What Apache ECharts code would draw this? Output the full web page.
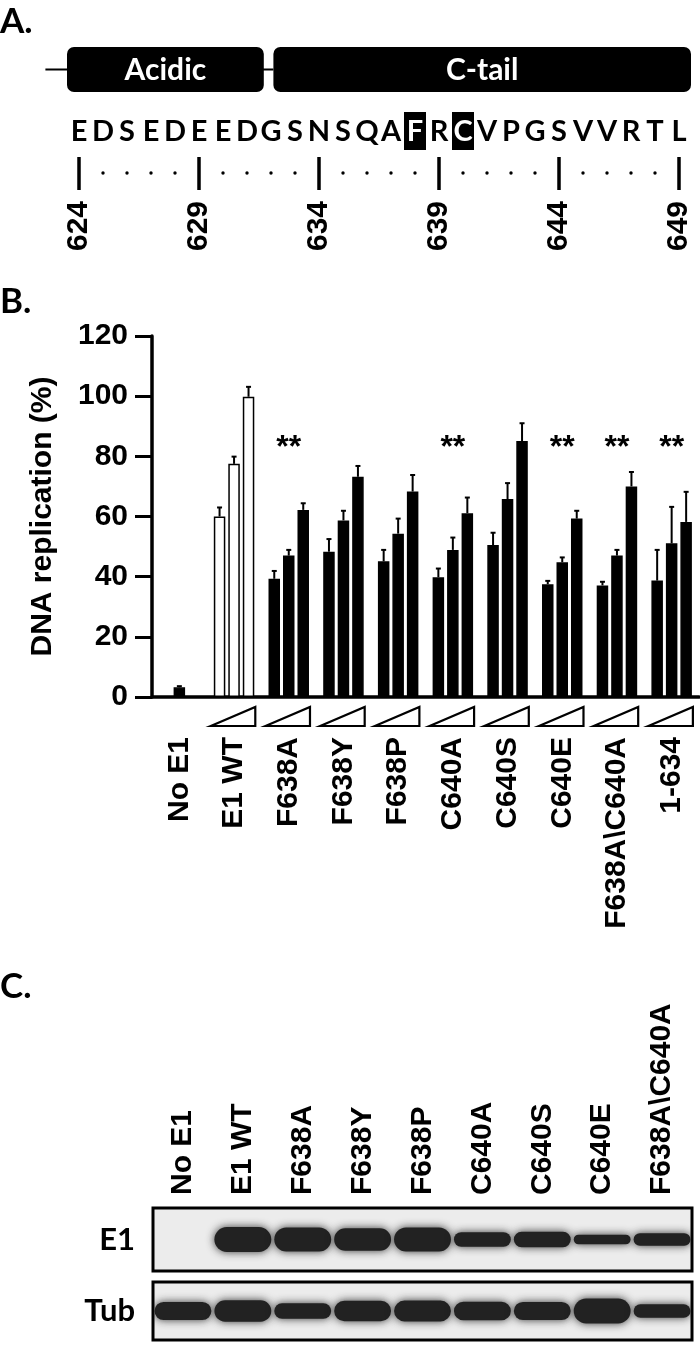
<!DOCTYPE html>
<html><head><meta charset="utf-8">
<script src="https://cdn.jsdelivr.net/npm/echarts@6/dist/echarts.min.js"></script>
<style>html,body{margin:0;padding:0;background:#fff}#c{width:700px;height:1346px}</style>
</head><body><div id="c"></div>
<script>
// ---------------- Data ----------------
// Panel A: sequence map
const residueStart = 624;
const sequence = ['E','D','S','E','D','E','E','D','G','S','N','S','Q','A','F','R','C','V','P','G','S','V','V','R','T','L'];
const highlighted = [638, 640];
const rulerLabels = [624, 629, 634, 639, 644, 649];
const domainNames = ['Acidic', 'C-tail'];
const domainStart = [623.5, 632.1];
const domainEnd = [631.7, 649.5];
const backboneStart = 622.6;

// Panel B: DNA replication (%)
const categories = ['No E1','E1 WT','F638A','F638Y','F638P','C640A','C640S','C640E','F638A\\C640A','1-634'];
const lowDose  = [null, 60.0, 39.3, 48.3, 45.1, 39.8, 50.5, 37.5, 37.1, 38.7];
const midDose  = [3.2,  77.5, 47.0, 58.7, 54.3, 48.9, 65.8, 44.8, 47.0, 51.1];
const highDose = [null, 99.8, 62.2, 73.2, 68.3, 61.1, 85.1, 59.3, 70.0, 58.2];
const lowErr   = [null, 3.0, 2.6, 4.2, 3.8, 2.9, 4.1, 1.1, 1.2, 10.2];
const midErr   = [0.4,  2.4, 1.9, 3.2, 5.0, 4.1, 5.3, 1.6, 1.9, 12.1];
const highErr  = [null, 3.3, 2.2, 3.6, 5.5, 5.2, 5.9, 2.6, 4.8, 10.0];
const significance = ['', '', '**', '', '', '**', '', '**', '**', '**'];
const yTicks = [0, 20, 40, 60, 80, 100, 120];

// Panel C: western blot (relative band intensity)
const lanes = ['No E1','E1 WT','F638A','F638Y','F638P','C640A','C640S','C640E','F638A\\C640A'];
const e1Intensity  = [0, 0.96, 0.92, 0.86, 0.92, 0.56, 0.6, 0.37, 0.48];
const tubIntensity = [0.7, 0.82, 0.6, 0.78, 0.8, 0.72, 0.7, 0.96, 0.52];

// ---------------- Layout / style ----------------
const ARIAL = '"Liberation Sans", Arial, sans-serif';
const CALIBRI = 'Lato, "Open Sans", sans-serif';
const BAR_GAP = 0.26, CAT_GAP = 0.26;
const STAR_LEVEL = 82.8;

const chart = echarts.init(document.getElementById('c'), null, {renderer: 'canvas'});

function barGeom(api) {
  const band = api.size([1, 0])[0];
  const bw = band * (1 - CAT_GAP) / (3 + 2 * BAR_GAP);
  return {band, bw};
}

const errData = [];
[[lowDose, lowErr], [midDose, midErr], [highDose, highErr]].forEach(([vals, errs], s) => {
  vals.forEach((v, i) => { if (v != null) errData.push([i, v, errs[i], s]); });
});

const option = {
  animation: false,
  backgroundColor: '#fff',
  graphic: [
    {type: 'text', left: 0, top: 4, style: {text: 'A.', font: 'bold 35px ' + CALIBRI, fill: '#000'}},
    {type: 'text', left: 0, top: 284, style: {text: 'B.', font: 'bold 35px ' + CALIBRI, fill: '#000'}},
    {type: 'text', left: 0, top: 969, style: {text: 'C.', font: 'bold 35px ' + CALIBRI, fill: '#000'}}
  ],
  grid: [
    {left: 67, width: 624, top: 40, height: 220},
    {left: 152, right: 1, top: 336, bottom: 649},
    {left: 153, right: 8, top: 1208, height: 63, show: true, backgroundColor: '#ececec', borderColor: '#000', borderWidth: 3},
    {left: 153, right: 8, top: 1282, height: 58, show: true, backgroundColor: '#ececec', borderColor: '#000', borderWidth: 3}
  ],
  xAxis: [
    {gridIndex: 0, type: 'value', min: 623.5, max: 649.5, show: false},
    {gridIndex: 1, type: 'category', data: categories,
      axisLine: {lineStyle: {color: '#000', width: 3.5}}, axisTick: {show: false},
      axisLabel: {rotate: 90, margin: 40, interval: 0, color: '#000', fontFamily: ARIAL, fontWeight: 'bold', fontSize: 30}},
    {gridIndex: 2, type: 'category', data: lanes, show: false},
    {gridIndex: 3, type: 'category', data: lanes, show: false}
  ],
  yAxis: [
    {gridIndex: 0, type: 'value', min: 0, max: 1, show: false},
    {gridIndex: 1, type: 'value', min: yTicks[0], max: yTicks[yTicks.length - 1], interval: 20,
      name: 'DNA replication (%)', nameLocation: 'middle', nameGap: 94,
      nameTextStyle: {color: '#000', fontFamily: ARIAL, fontWeight: 'bold', fontSize: 30},
      axisLine: {show: true, lineStyle: {color: '#000', width: 3.5}},
      axisTick: {show: true, length: 17, lineStyle: {color: '#000', width: 3}},
      splitLine: {show: false},
      axisLabel: {margin: 24, color: '#000', fontFamily: ARIAL, fontWeight: 'bold', fontSize: 30}},
    {gridIndex: 2, type: 'category', data: ['E1'], axisLine: {show: false}, axisTick: {show: false},
      axisLabel: {margin: 18, color: '#000', fontFamily: CALIBRI, fontWeight: 'bold', fontSize: 31}},
    {gridIndex: 3, type: 'category', data: ['Tub'], axisLine: {show: false}, axisTick: {show: false},
      axisLabel: {margin: 18, color: '#000', fontFamily: CALIBRI, fontWeight: 'bold', fontSize: 31}}
  ],
  series: [
    // ---- Panel A ----
    {type: 'custom', xAxisIndex: 0, yAxisIndex: 0, clip: false, silent: true,
      data: [[backboneStart, domainStart[1]]],
      renderItem(params, api) {
        const top = params.coordSys.y;
        const x1 = api.coord([api.value(0), 0])[0], x2 = api.coord([api.value(1), 0])[0];
        return {type: 'line', shape: {x1, y1: top + 29.5, x2, y2: top + 29.5}, style: {stroke: '#000', lineWidth: 2}};
      }},
    {type: 'custom', xAxisIndex: 0, yAxisIndex: 0, clip: false, silent: true, z: 3,
      data: domainNames.map((n, i) => [domainStart[i], domainEnd[i], i]),
      renderItem(params, api) {
        const top = params.coordSys.y;
        const x1 = api.coord([api.value(0), 0])[0], x2 = api.coord([api.value(1), 0])[0];
        const name = domainNames[api.value(2)];
        return {type: 'group', children: [
          {type: 'rect', shape: {x: x1, y: top + 7, width: x2 - x1, height: 45, r: 7}, style: {fill: '#000'}},
          {type: 'text', x: (x1 + x2) / 2, y: top + 30, style: {text: name, fill: '#fff', font: 'bold 30px ' + CALIBRI, align: 'center', verticalAlign: 'middle'}}
        ]};
      }},
    {type: 'custom', xAxisIndex: 0, yAxisIndex: 0, clip: false, silent: true, z: 3,
      data: sequence.map((s, i) => [residueStart + i, i]),
      renderItem(params, api) {
        const top = params.coordSys.y;
        const res = api.value(0);
        const x = api.coord([res, 0])[0];
        const hl = highlighted.indexOf(res) >= 0;
        const ch = [];
        if (hl) ch.push({type: 'rect', shape: {x: x - 11, y: top + 72, width: 22, height: 38}, style: {fill: '#000'}});
        ch.push({type: 'text', x: x, y: top + 92, style: {text: sequence[api.value(1)], fill: hl ? '#fff' : '#000', font: 'bold 29px ' + CALIBRI, align: 'center', verticalAlign: 'middle'}});
        if (rulerLabels.indexOf(res) >= 0) {
          ch.push({type: 'line', shape: {x1: x, y1: top + 117, x2: x, y2: top + 150}, style: {stroke: '#000', lineWidth: 3.5}});
          ch.push({type: 'text', x: x, y: top + 161, rotation: Math.PI / 2, style: {text: String(res), fill: '#000', font: 'bold 30px ' + ARIAL, align: 'right', verticalAlign: 'middle'}});
        } else {
          ch.push({type: 'circle', shape: {cx: x, cy: top + 133, r: 1.7}, style: {fill: '#000'}});
        }
        return {type: 'group', children: ch};
      }},
    // ---- Panel B ----
    ...[lowDose, midDose, highDose].map((vals, s) => ({
      type: 'bar', xAxisIndex: 1, yAxisIndex: 1, barGap: (BAR_GAP * 100) + '%', barCategoryGap: (CAT_GAP * 100) + '%',
      data: vals.map((v, i) => ({value: v, itemStyle: i === 1 ? {color: '#fff'} : {color: '#000'}})),
      itemStyle: {borderColor: '#000', borderWidth: 1.5}
    })),
    {type: 'custom', xAxisIndex: 1, yAxisIndex: 1, clip: false, silent: true, z: 4,
      data: errData,
      renderItem(params, api) {
        const i = api.value(0), v = api.value(1), e = api.value(2), s = api.value(3);
        const g = barGeom(api);
        const off = (s - 1) * g.bw * (1 + BAR_GAP);
        const p0 = api.coord([i, v]), p1 = api.coord([i, v + e]);
        const x = p0[0] + off;
        return {type: 'group', children: [
          {type: 'line', shape: {x1: x, y1: p0[1], x2: x, y2: p1[1]}, style: {stroke: '#000', lineWidth: 2}},
          {type: 'line', shape: {x1: x - 2.5, y1: p1[1], x2: x + 2.5, y2: p1[1]}, style: {stroke: '#000', lineWidth: 2}}
        ]};
      }},
    {type: 'custom', xAxisIndex: 1, yAxisIndex: 1, clip: false, silent: true, z: 4,
      data: lowDose.map((v, i) => [i, v == null ? 0 : 1]).filter(d => d[1] === 1),
      renderItem(params, api) {
        const i = api.value(0);
        const c = api.coord([i, 0]);
        const g = barGeom(api);
        const half = g.bw * (1.5 + BAR_GAP);
        const x1 = c[0] - half - 3, x2 = c[0] + half + 1;
        const yT = c[1] + 10, yB = c[1] + 29;
        return {type: 'polygon', shape: {points: [[x1, yB], [x2, yT], [x2, yB]]}, style: {fill: 'none', stroke: '#000', lineWidth: 2.2, lineJoin: 'miter'}};
      }},
    {type: 'custom', xAxisIndex: 1, yAxisIndex: 1, clip: false, silent: true, z: 4,
      data: significance.map((t, i) => [i, t ? 1 : 0]).filter(d => d[1] === 1),
      renderItem(params, api) {
        const i = api.value(0);
        const c = api.coord([i, STAR_LEVEL]);
        return {type: 'text', x: c[0], y: c[1], style: {text: significance[i], fill: '#000', font: 'bold 32px ' + ARIAL, align: 'center', verticalAlign: 'middle'}};
      }},
    // ---- Panel C ----
    {type: 'custom', xAxisIndex: 2, yAxisIndex: 2, silent: true, clip: false, z: 5,
      data: lanes.map((l, i) => [i, 0]),
      renderItem(params, api) {
        const c = api.coord([api.value(0), 0]);
        const top = params.coordSys.y;
        return {type: 'text', x: c[0], y: top - 13, rotation: Math.PI / 2,
          style: {text: lanes[api.value(0)], fill: '#000', font: 'bold 30px ' + ARIAL, align: 'left', verticalAlign: 'middle'}};
      }},
    ...[[e1Intensity, 2], [tubIntensity, 3]].map(([vals, gi]) => ({
      type: 'custom', xAxisIndex: gi, yAxisIndex: gi, silent: true, clip: true,
      data: vals.map((v, i) => [i, v]),
      renderItem(params, api) {
        const v = api.value(1);
        if (!v) return null;
        const c = api.coord([api.value(0), 0]);
        const w = api.size([1, 0])[0] * 0.95;
        const h = v * 26;
        return {type: 'rect', shape: {x: c[0] - w / 2, y: c[1] - h / 2, width: w, height: h, r: h / 2},
          style: {fill: '#222', shadowBlur: 8, shadowColor: 'rgba(20,20,20,0.85)'}};
      }
    }))
  ]
};
chart.setOption(option);
</script>
</body></html>
